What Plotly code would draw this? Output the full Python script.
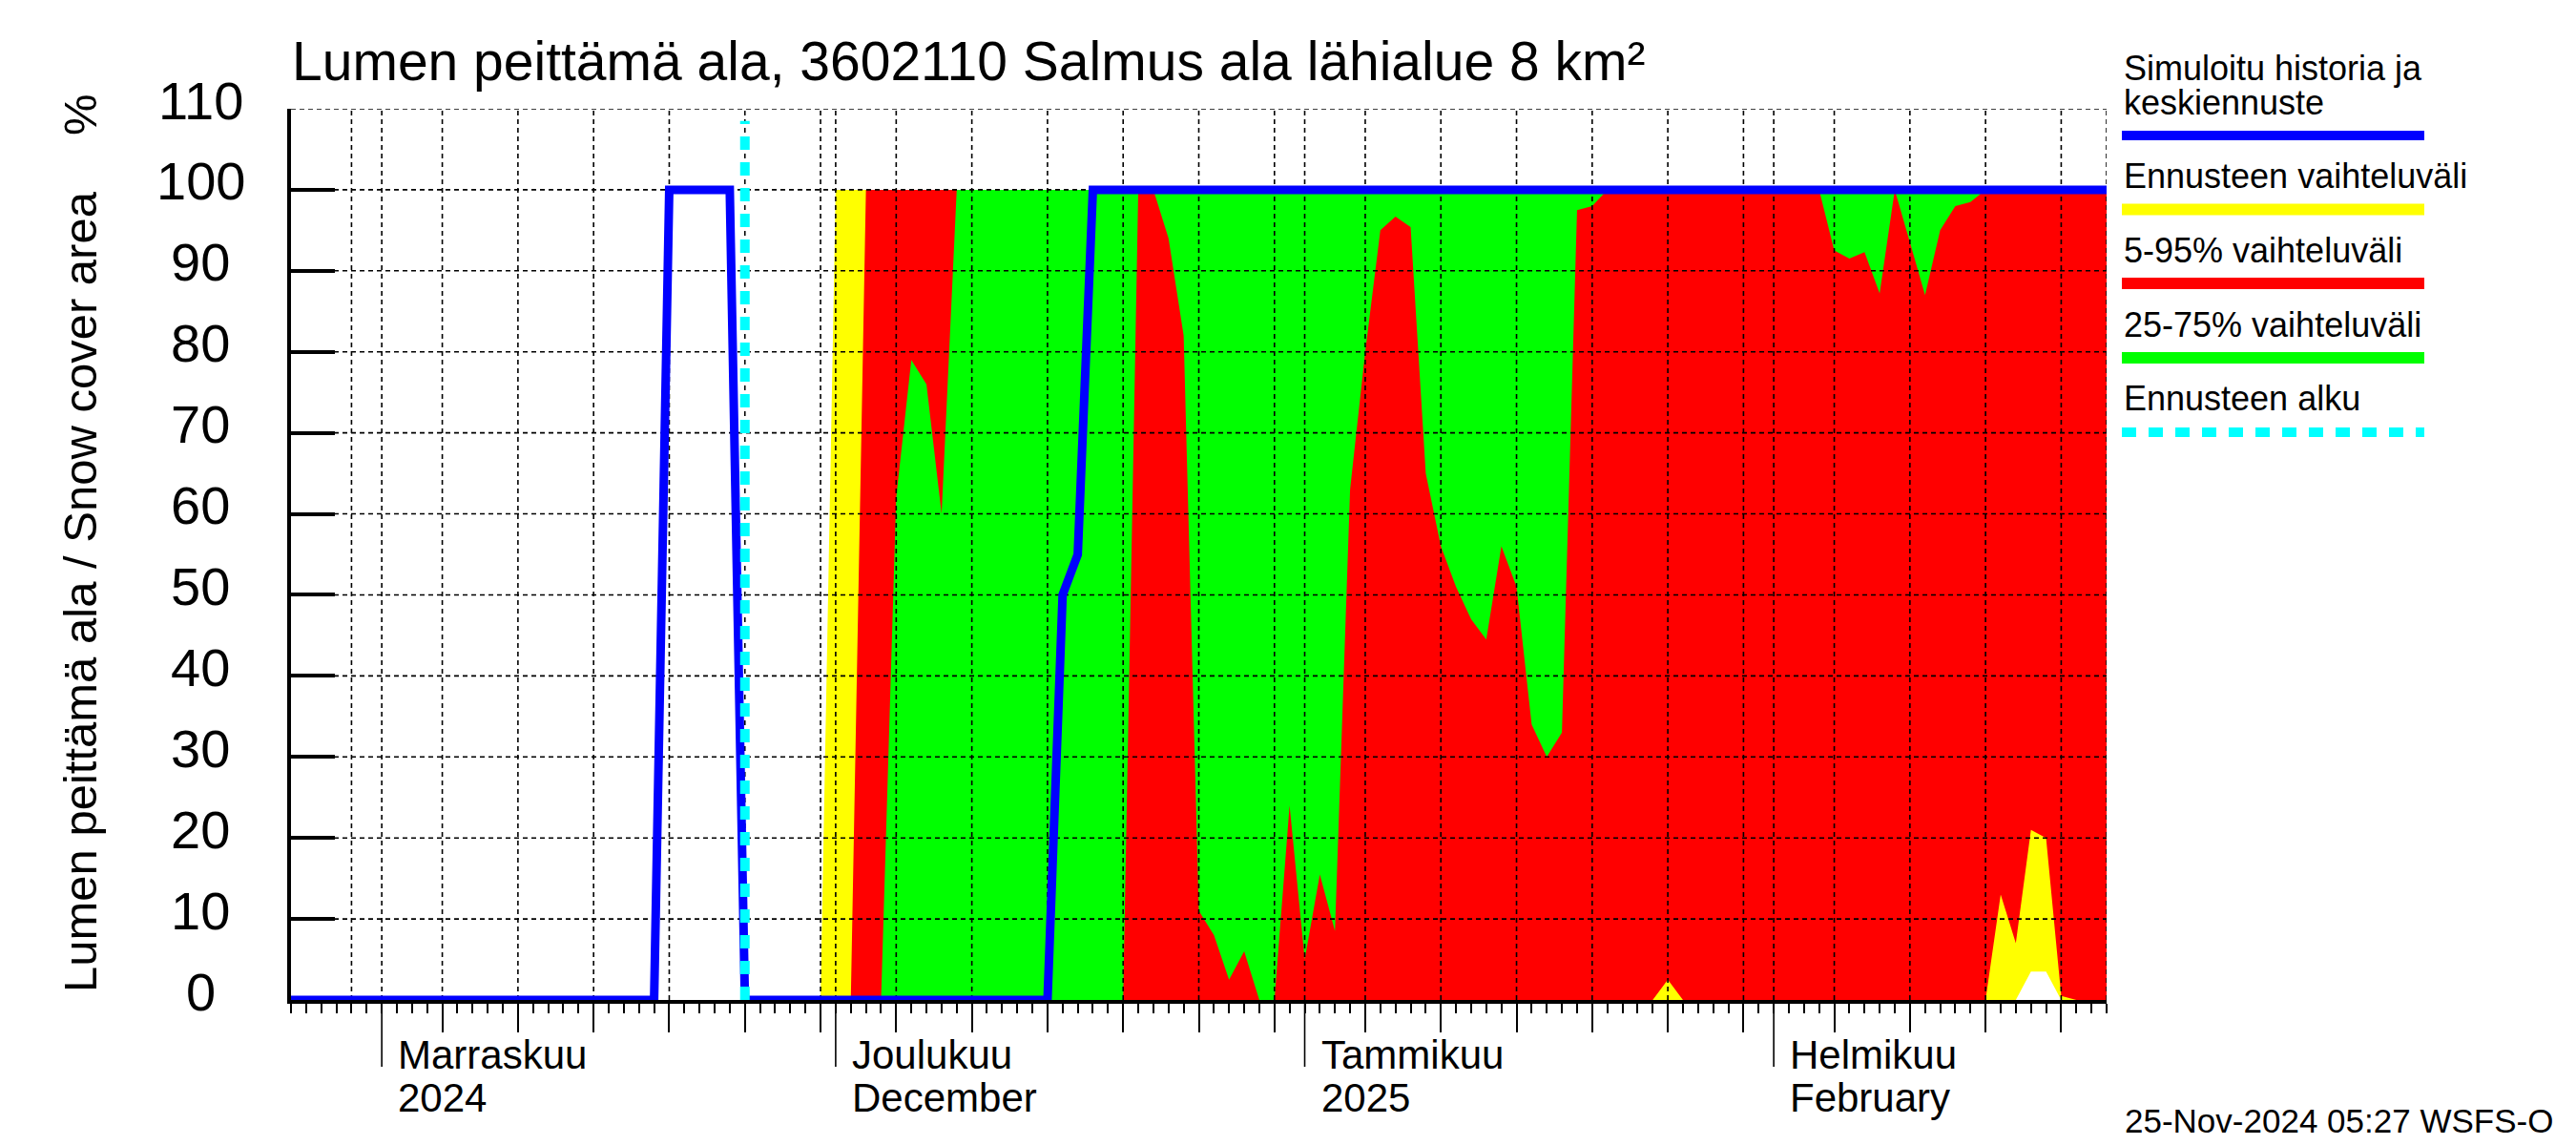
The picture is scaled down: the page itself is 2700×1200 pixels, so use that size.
import plotly.graph_objects as go

# ---------------- data ----------------
x_start = "2024-10-26"
x_end = "2025-02-23"
forecast_start = "2024-11-25"

# Simulated history + median forecast (blue line), %
median_dates = ["2024-10-26", "2024-11-19", "2024-11-20", "2024-11-24", "2024-11-25",
                "2024-12-15", "2024-12-16", "2024-12-17", "2024-12-18", "2025-02-23"]
median_values = [0, 0, 100, 100, 0, 0, 50, 55, 100, 100]

# Forecast range (yellow): ensemble max / min
ens_max_dates = ["2024-11-25", "2024-11-30", "2024-12-01", "2025-02-23"]
ens_max_values = [0, 0, 100, 100]
ens_min_dates = ["2024-11-25", "2025-02-17", "2025-02-18", "2025-02-19", "2025-02-20", "2025-02-23"]
ens_min_values = [0, 0, 3.5, 3.5, 0, 0]

# 5-95 % range (red)
p95_dates = ["2024-11-25", "2024-12-02", "2024-12-03", "2025-02-23"]
p95_values = [0, 0, 100, 100]
p5_dates = ["2024-11-25", "2025-01-24", "2025-01-25", "2025-01-26", "2025-02-15", "2025-02-16",
            "2025-02-17", "2025-02-18", "2025-02-19", "2025-02-20", "2025-02-21", "2025-02-23"]
p5_values = [0, 0, 2.5, 0, 0, 13, 7, 21, 20, 0.5, 0, 0]

# 25-75 % range (green)
p75_dates = ["2024-11-25", "2024-12-04", "2024-12-05", "2024-12-06", "2024-12-07",
             "2024-12-08", "2024-12-09", "2025-02-23"]
p75_values = [0, 0, 62, 79, 76, 60, 100, 100]
p25_dates = ["2024-11-25", "2024-12-20", "2024-12-21", "2024-12-22", "2024-12-23", "2024-12-24",
             "2024-12-25", "2024-12-26", "2024-12-27", "2024-12-28", "2024-12-29", "2024-12-30",
             "2024-12-31", "2025-01-01", "2025-01-02", "2025-01-03", "2025-01-04", "2025-01-05",
             "2025-01-06", "2025-01-07", "2025-01-08", "2025-01-09", "2025-01-10", "2025-01-11",
             "2025-01-12", "2025-01-13", "2025-01-14", "2025-01-15", "2025-01-16", "2025-01-17",
             "2025-01-18", "2025-01-19", "2025-01-20", "2025-01-21", "2025-02-04", "2025-02-05",
             "2025-02-06", "2025-02-07", "2025-02-08", "2025-02-09", "2025-02-10", "2025-02-11",
             "2025-02-12", "2025-02-13", "2025-02-14", "2025-02-15", "2025-02-23"]
p25_values = [0, 0, 100, 100, 94, 82,
              11, 8, 2.5, 6, 0, 0,
              24, 5, 15.5, 8.5, 63, 80,
              95, 96.7, 95.4, 65, 56, 51,
              47, 44.5, 56, 51, 34, 30,
              33, 97.5, 98, 100, 100, 92.5,
              91.5, 92.3, 87.2, 100, 93.5, 87,
              95, 98, 98.5, 100, 100]

# Axis ticks / labels
y_ticks = [0, 10, 20, 30, 40, 50, 60, 70, 80, 90, 100, 110]
y_tick_labels = ["0", "10", "20", "30", "40", "50", "60", "70", "80", "90", "100", "110"]
month_starts = ["2024-11-01", "2024-12-01", "2025-01-01", "2025-02-01"]
month_line1 = ["Marraskuu", "Joulukuu", "Tammikuu", "Helmikuu"]
month_line2 = ["2024", "December", "2025", "February"]
five_day_ticks = ["2024-11-05", "2024-11-10", "2024-11-15", "2024-11-20", "2024-11-25", "2024-11-30",
                  "2024-12-05", "2024-12-10", "2024-12-15", "2024-12-20", "2024-12-25", "2024-12-30",
                  "2025-01-05", "2025-01-10", "2025-01-15", "2025-01-20", "2025-01-25", "2025-01-30",
                  "2025-02-05", "2025-02-10", "2025-02-15", "2025-02-20"]
grid_dates = ["2024-10-30"] + month_starts + five_day_ticks + [x_end]

title_text = "Lumen peittämä ala, 3602110 Salmus ala lähialue 8 km²"
y_title = "Lumen peittämä ala / Snow cover area"
legend_text_lines = ["Simuloitu historia ja", "keskiennuste", "Ennusteen vaihteluväli",
                     "5-95% vaihteluväli", "25-75% vaihteluväli", "Ennusteen alku"]
footer_text = "25-Nov-2024 05:27 WSFS-O"

BLUE, YELLOW, RED, GREEN, CYAN = "#0000FF", "#FFFF00", "#FF0000", "#00FF00", "#00FFFF"
FONT = "Liberation Sans, Arial, Helvetica, sans-serif"

# ---------------- layout geometry (pixels) ----------------
W, H = 2700, 1200
L, R, T, B = 305, 2208, 114, 1048


def px(xp):
    return (xp - L) / (R - L)


def py(yp):
    return (B - yp) / (B - T)


def band(up_d, up_v, lo_d, lo_v):
    return list(up_d) + list(lo_d)[::-1], list(up_v) + list(lo_v)[::-1]


fig = go.Figure()

for (ud, uv, ld, lv, col) in [
    (ens_max_dates, ens_max_values, ens_min_dates, ens_min_values, YELLOW),
    (p95_dates, p95_values, p5_dates, p5_values, RED),
    (p75_dates, p75_values, p25_dates, p25_values, GREEN),
]:
    bx, by = band(ud, uv, ld, lv)
    fig.add_trace(go.Scatter(x=bx, y=by, mode="lines", fill="toself", fillcolor=col,
                             line=dict(width=0, color=col), hoverinfo="skip"))

# grid lines drawn above the coloured bands
GRID = dict(color="black", width=1.6, dash="5px,4px")
gx, gy = [], []
for d in grid_dates:
    gx += [d, d, None]
    gy += [0, 110, None]
fig.add_trace(go.Scatter(x=gx, y=gy, mode="lines", cliponaxis=False, line=GRID, hoverinfo="skip"))
hx, hy = [], []
for v in y_ticks[1:]:
    hx += [x_start, x_end, None]
    hy += [v, v, None]
fig.add_trace(go.Scatter(x=hx, y=hy, mode="lines", cliponaxis=False, line=GRID, hoverinfo="skip"))

# median line
fig.add_trace(go.Scatter(x=median_dates, y=median_values, mode="lines",
                         line=dict(color=BLUE, width=9), hoverinfo="skip"))
# forecast start
fig.add_trace(go.Scatter(x=[forecast_start, forecast_start], y=[0, 108.5], mode="lines",
                         cliponaxis=False,
                         line=dict(color=CYAN, width=10, dash="14px,13px"), hoverinfo="skip"))

shapes = []
annotations = []

# y tick labels (centred in a column left of the axis, as in the reference)
for v, lab in zip(y_ticks, y_tick_labels):
    annotations.append(dict(text=lab, x=px(210), xref="paper", xanchor="center",
                            y=v, yref="y", yanchor="middle", yshift=9, showarrow=False,
                            font=dict(size=56, family=FONT, color="black")))

# long month ticks below the axis + labels
for d, l1, l2 in zip(month_starts, month_line1, month_line2):
    shapes.append(dict(type="line", xref="x", yref="paper", x0=d, x1=d, y0=py(1050), y1=py(1118),
                       line=dict(color="black", width=1.6)))
    annotations.append(dict(text=l1, x=d, xref="x", xshift=15, xanchor="left",
                            y=py(1105), yref="paper", yanchor="middle", showarrow=False,
                            font=dict(size=42, family=FONT, color="black")))
    annotations.append(dict(text=l2, x=d, xref="x", xshift=15, xanchor="left",
                            y=py(1150), yref="paper", yanchor="middle", showarrow=False,
                            font=dict(size=42, family=FONT, color="black")))

# y axis title and unit
annotations.append(dict(text=y_title, textangle=-90, x=px(84), y=py(620), xref="paper", yref="paper",
                        xanchor="center", yanchor="middle", showarrow=False,
                        font=dict(size=49, family=FONT, color="black")))
annotations.append(dict(text="%", textangle=-90, x=px(84), y=py(120), xref="paper", yref="paper",
                        xanchor="center", yanchor="middle", showarrow=False,
                        font=dict(size=49, family=FONT, color="black")))

# footer
annotations.append(dict(text=footer_text, x=px(2678), y=py(1174), xref="paper", yref="paper",
                        xanchor="right", yanchor="middle", showarrow=False,
                        font=dict(size=35, family=FONT, color="black")))

# legend (text above a sample line)
legend_text_y = [71.5, 107.5, 184.5, 262.5, 340, 417.5]
for lab, ty in zip(legend_text_lines, legend_text_y):
    annotations.append(dict(text=lab, x=px(2224), y=py(ty), xref="paper", yref="paper",
                            xanchor="left", yanchor="middle", align="left", showarrow=False,
                            font=dict(size=36, family=FONT, color="black")))
legend_line_y = [142, 219.5, 297, 375, 453]
legend_cols = [BLUE, YELLOW, RED, GREEN, CYAN]
legend_widths = [10, 12, 12, 12, 10]
legend_dash = ["solid", "solid", "solid", "solid", "15px,13px"]
for ly, col, lw, ds in zip(legend_line_y, legend_cols, legend_widths, legend_dash):
    shapes.append(dict(type="line", xref="paper", yref="paper", x0=px(2224), x1=px(2541),
                       y0=py(ly), y1=py(ly), line=dict(color=col, width=lw, dash=ds)))

fig.update_layout(
    width=W, height=H,
    margin=dict(l=L, r=W - R, t=T, b=H - B, pad=0),
    paper_bgcolor="white", plot_bgcolor="white",
    showlegend=False,
    font=dict(family=FONT, color="black"),
    title=dict(text=title_text, x=306 / W, xref="container", xanchor="left",
               y=1 - 64 / H, yref="container", yanchor="middle",
               font=dict(size=57, family=FONT, color="black")),
    shapes=shapes,
    annotations=annotations,
    xaxis=dict(type="date", range=[x_start, x_end], showgrid=False, zeroline=False,
               showline=True, linecolor="black", linewidth=4,
               tickmode="array", tickvals=five_day_ticks, ticktext=[""] * len(five_day_ticks),
               ticks="outside", ticklen=30, tickwidth=1.6, tickcolor="black",
               minor=dict(dtick=86400000, tick0=x_start, ticks="outside", ticklen=10,
                          tickwidth=1.6, tickcolor="black", showgrid=False)),
    yaxis=dict(range=[0, 110], tickmode="array", tickvals=y_ticks, showticklabels=False,
               ticks="inside", ticklen=46, tickwidth=4, tickcolor="black",
               showline=True, linecolor="black", linewidth=4,
               showgrid=False, zeroline=False),
)

fig.write_html("out.html", config={"displayModeBar": False},
               post_script="document.body.style.margin='0';")
